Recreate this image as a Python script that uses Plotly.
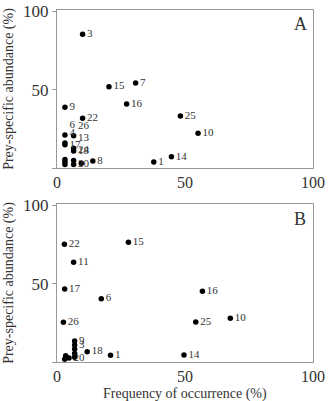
import plotly.graph_objects as go

# Panel A data
a_x = [10.0, 20.3, 30.7, 27.2, 3.1, 10.0, 48.2, 55.1, 3.1, 6.5, 3.1, 3.1, 6.5, 6.5, 44.7, 37.8, 14.0,
       3.1, 3.1, 3.1, 6.5, 6.5, 9.5]
a_y = [85.3, 51.9, 54.2, 40.8, 38.7, 31.7, 33.2, 22.1, 21.0, 20.6, 16.0, 14.8, 12.6, 10.8, 7.1, 3.8, 4.5,
       5.5, 3.8, 2.2, 4.8, 2.2, 3.0]
a_lab = ["3", "15", "7", "16", "9", "22", "25", "10", "6", "26", "4", "17", "13", "18", "14", "1", "8",
         "", "", "", "24", "20", ""]
a_pos = ["middle right"] * 8 + ["top right", "top right", "top right", "middle right", "top right",
         "middle right", "middle right", "middle right", "middle right",
         "middle right", "middle right", "middle right", "top right", "middle right", "middle right"]

# Panel B data
b_x = [2.9, 27.9, 6.5, 3.0, 17.3, 56.8, 2.5, 54.2, 67.7, 49.6, 20.9,
       6.9, 6.9, 6.9, 6.9, 11.8, 3.4, 6.9, 4.7, 3.0]
b_y = [75.1, 76.4, 63.6, 46.6, 40.4, 45.1, 25.3, 25.5, 27.9, 4.5, 4.3,
       13.4, 10.8, 8.3, 5.5, 6.6, 4.0, 3.0, 2.5, 1.8]
b_lab = ["22", "15", "11", "17", "6", "16", "26", "25", "10", "14", "1",
         "9", "3", "", "", "18", "", "", "20", ""]

x_ticks = [0, 50, 100]
y_ticks = [50, 100]
y_title = "Prey-specific abundance (%)"
x_title = "Frequency of occurrence (%)"

SERIF = "Liberation Serif, Times New Roman, serif"

fig = go.Figure()
fig.add_trace(go.Scatter(x=a_x, y=a_y, text=a_lab, mode="markers+text",
                         textposition=a_pos, cliponaxis=False,
                         marker=dict(color="black", size=5.5),
                         textfont=dict(family=SERIF, size=11, color="#333"),
                         xaxis="x", yaxis="y", showlegend=False))
fig.add_trace(go.Scatter(x=b_x, y=b_y, text=b_lab, mode="markers+text",
                         textposition="middle right", cliponaxis=False,
                         marker=dict(color="black", size=5.5),
                         textfont=dict(family=SERIF, size=11, color="#333"),
                         xaxis="x2", yaxis="y2", showlegend=False))

H = 401.0
xa = dict(range=[0, 100], tickvals=x_ticks, showgrid=False, zeroline=False,
          showline=True, linecolor="#999", linewidth=1, mirror=True, automargin=False,
          ticks="", tickfont=dict(family=SERIF, size=16, color="#333"))
ya = dict(range=[0, 100.8], tickvals=[0] + y_ticks, ticktext=[""] + [str(v) for v in y_ticks],
          showgrid=False, zeroline=False, automargin=False,
          showline=True, linecolor="#999", linewidth=1, mirror=True,
          ticks="outside", ticklen=4, tickcolor="#999",
          tickfont=dict(family=SERIF, size=17, color="#333"),
          title=dict(text=y_title, font=dict(family=SERIF, size=14, color="#333"), standoff=6))

fig.update_layout(
    width=330, height=401,
    margin=dict(l=57, r=17, t=0, b=0),
    paper_bgcolor="white", plot_bgcolor="white",
    xaxis=dict(xa, domain=[0, 1], anchor="y"),
    yaxis=dict(ya, domain=[1 - 168 / H, 1 - 10 / H], anchor="x"),
    xaxis2=dict(xa, domain=[0, 1], anchor="y2"),
    yaxis2=dict(ya, domain=[1 - 362 / H, 1 - 204 / H], anchor="x2"),
    annotations=[
        dict(text="A", xref="x", yref="y", x=95, y=92, showarrow=False,
             font=dict(family=SERIF, size=18, color="#333")),
        dict(text="B", xref="x2", yref="y2", x=95, y=91, showarrow=False,
             font=dict(family=SERIF, size=18, color="#333")),
        dict(text=x_title, xref="paper", yref="paper", x=0.5, y=1 - 393.5 / H,
             xanchor="center", yanchor="middle", showarrow=False,
             font=dict(family=SERIF, size=14, color="#333")),
    ],
)

fig.write_html("out.html")
